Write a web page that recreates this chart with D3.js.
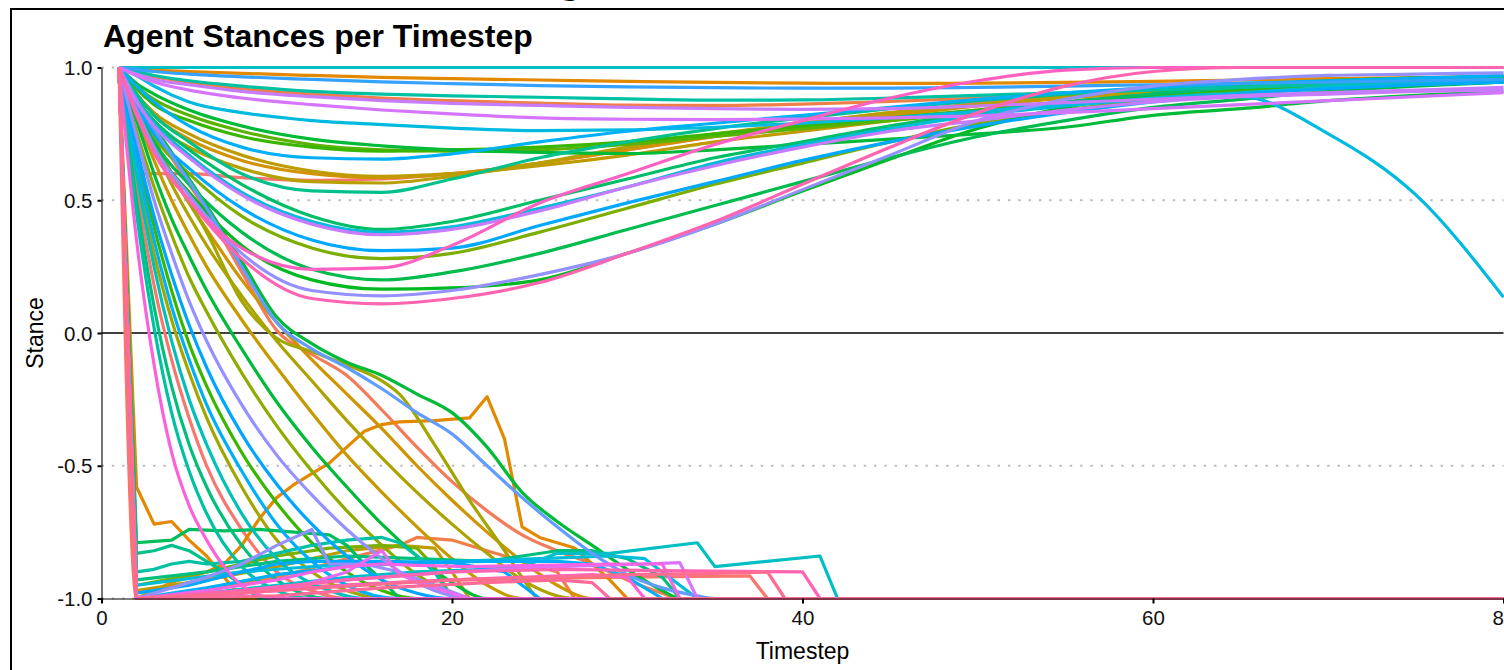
<!DOCTYPE html>
<html>
<head>
<meta charset="utf-8">
<script src="https://cdn.jsdelivr.net/npm/d3@7"></script>
<style>
html,body{margin:0;padding:0;background:#fff;}
svg{display:block;font-family:"Liberation Sans",Arial,Helvetica,sans-serif;}
</style>
</head>
<body>
<svg id="chart" width="1504" height="670"></svg>
<script>
// ---------------- DATA ----------------
const chartTitle = "Agent Stances per Timestep";
const xLabel = "Timestep";
const yLabel = "Stance";
const xTicks = [0, 20, 40, 60, 80];
const yTicks = [-1.0, -0.5, 0.0, 0.5, 1.0];
const gridValues = [-1.0, -0.5, 0.5, 1.0];

// agents that stay positive: values at these timesteps
const upperTimesteps = [1,2,3,5,8,12,16,20,25,30,35,40,45,50,55,60,65,70,75,80];
const upperColors = ["#00BFC4","#E38900","#35A2FF","#00C1A3","#EF7F49","#C77CFF","#D575FE","#00BAE0",
  "#00B0F6","#00BA38","#5BB300","#39B600","#C09B00","#D39200","#B79F00","#F8766D","#00C08B",
  "#00BCD8","#C77CFF","#00BE67","#00A9FF","#7CAE00","#FF61C3","#00BB4E","#00B81F","#9590FF","#FF64B0"];
const upperValues = [
  [1,1,1,1,1,1,1,1,1,1,1,1,1,1,1,1,1,1,1,1],
  [1,0.995,0.99,0.985,0.978,0.97,0.963,0.958,0.953,0.948,0.944,0.941,0.94,0.941,0.944,0.948,0.953,0.958,0.962,0.966],
  [1,0.993,0.985,0.975,0.965,0.955,0.946,0.939,0.932,0.927,0.924,0.922,0.922,0.925,0.93,0.935,0.94,0.945,0.95,0.955],
  [1,0.985,0.97,0.95,0.93,0.91,0.9,0.893,0.888,0.882,0.877,0.878,0.885,0.895,0.905,0.915,0.925,0.935,0.94,0.945],
  [1,0.98,0.965,0.945,0.92,0.9,0.885,0.875,0.866,0.858,0.857,0.862,0.872,0.885,0.9,0.912,0.925,0.935,0.945,0.952],
  [1,0.975,0.955,0.935,0.91,0.89,0.875,0.865,0.857,0.85,0.845,0.842,0.845,0.855,0.868,0.88,0.895,0.905,0.915,0.925],
  [1,0.97,0.945,0.915,0.885,0.86,0.84,0.825,0.81,0.805,0.804,0.806,0.81,0.818,0.83,0.845,0.86,0.875,0.89,0.905],
  [1,0.97,0.93,0.87,0.83,0.8,0.785,0.772,0.762,0.765,0.775,0.79,0.81,0.835,0.86,0.88,0.89,0.75,0.52,0.135],
  [1,0.93,0.87,0.78,0.7,0.66,0.655,0.675,0.72,0.76,0.79,0.82,0.85,0.88,0.905,0.925,0.94,0.95,0.96,0.97],
  [1,0.94,0.9,0.84,0.78,0.73,0.705,0.69,0.68,0.676,0.69,0.71,0.73,0.75,0.775,0.82,0.845,0.875,0.895,0.91],
  [1,0.93,0.88,0.82,0.76,0.71,0.69,0.685,0.69,0.71,0.74,0.77,0.8,0.83,0.86,0.885,0.905,0.92,0.935,0.945],
  [1,0.92,0.86,0.8,0.74,0.7,0.685,0.69,0.7,0.72,0.75,0.78,0.81,0.84,0.87,0.895,0.915,0.93,0.945,0.955],
  [1,0.9,0.83,0.75,0.67,0.61,0.59,0.6,0.63,0.67,0.72,0.76,0.8,0.84,0.87,0.9,0.92,0.935,0.945,0.955],
  [1,0.9,0.82,0.73,0.65,0.6,0.585,0.6,0.64,0.69,0.74,0.78,0.82,0.855,0.885,0.905,0.925,0.94,0.95,0.96],
  [1,0.88,0.79,0.7,0.62,0.57,0.565,0.59,0.64,0.7,0.75,0.79,0.83,0.86,0.89,0.91,0.93,0.945,0.955,0.965],
  [1,0.6,0.6,0.6,0.585,0.575,0.58,0.6,0.64,0.69,0.74,0.79,0.83,0.865,0.895,0.915,0.935,0.95,0.96,0.968],
  [1,0.9,0.82,0.72,0.6,0.535,0.53,0.58,0.66,0.72,0.77,0.81,0.845,0.875,0.9,0.92,0.935,0.948,0.958,0.968],
  [1,0.88,0.79,0.67,0.53,0.42,0.38,0.4,0.47,0.55,0.64,0.71,0.77,0.82,0.855,0.885,0.905,0.925,0.94,0.95],
  [1,0.87,0.78,0.66,0.52,0.41,0.37,0.39,0.46,0.55,0.63,0.7,0.76,0.8,0.84,0.87,0.89,0.9,0.91,0.915],
  [1,0.88,0.8,0.69,0.56,0.44,0.39,0.42,0.5,0.58,0.66,0.72,0.78,0.83,0.87,0.9,0.925,0.94,0.955,0.965],
  [1,0.86,0.75,0.62,0.47,0.35,0.31,0.32,0.405,0.49,0.57,0.65,0.72,0.78,0.83,0.87,0.9,0.92,0.935,0.945],
  [1,0.86,0.74,0.6,0.44,0.32,0.28,0.3,0.38,0.47,0.56,0.64,0.72,0.79,0.84,0.88,0.91,0.93,0.945,0.955],
  [1,0.82,0.68,0.5,0.32,0.24,0.245,0.33,0.49,0.6,0.71,0.8,0.885,0.95,0.99,1,1,1,1,1],
  [1,0.85,0.72,0.56,0.38,0.24,0.2,0.23,0.3,0.39,0.48,0.57,0.66,0.74,0.8,0.85,0.88,0.91,0.93,0.945],
  [1,0.84,0.7,0.53,0.33,0.2,0.165,0.17,0.2,0.3,0.41,0.535,0.655,0.77,0.85,0.9,0.93,0.95,0.96,0.965],
  [1,0.84,0.7,0.52,0.3,0.16,0.14,0.16,0.22,0.3,0.41,0.54,0.67,0.8,0.88,0.93,0.955,0.97,0.975,0.98],
  [1,0.83,0.68,0.5,0.28,0.13,0.11,0.13,0.19,0.3,0.42,0.56,0.7,0.83,0.93,0.985,1,1,1,1]
];

// agents that fall to -1 : [timestep, stance]
const fallingColors = ["#F8766D","#FA62DB","#00C1A3","#00BF7D","#F8766D","#00C0B8","#A3A500","#00B0F6",
  "#39B600","#00A5FF","#9590FF","#8EAB00","#00BA38","#C49A00","#ADA200","#D09400","#A3A500","#F37B59","#619CFF","#00BA38"];
const fallingPoints = [
  [[1,1],[2,-1],[80,-1]],
  [[1,1],[2,0.35],[3,-0.12],[4,-0.45],[5,-0.65],[6,-0.78],[7,-0.88],[8,-0.95],[10,-1],[80,-1]],
  [[1,1],[2,0.45],[3,0.02],[4,-0.3],[5,-0.52],[6,-0.68],[8,-0.88],[10,-0.97],[12,-1],[80,-1]],
  [[1,1],[2,0.5],[3,0.1],[4,-0.2],[5,-0.42],[6,-0.58],[8,-0.8],[10,-0.93],[13,-1],[80,-1]],
  [[1,1],[2,0.55],[3,0.18],[4,-0.1],[5,-0.32],[6,-0.5],[8,-0.74],[10,-0.9],[12,-0.97],[14,-1],[80,-1]],
  [[1,1],[2,0.6],[3,0.25],[4,-0.03],[5,-0.25],[6,-0.42],[8,-0.68],[10,-0.85],[13,-0.97],[15,-1],[80,-1]],
  [[1,1],[2,0.62],[3,0.3],[4,0.05],[5,-0.15],[6,-0.32],[8,-0.58],[10,-0.78],[12,-0.9],[15,-0.99],[16,-1],[80,-1]],
  [[1,1],[2,0.65],[3,0.35],[4,0.1],[5,-0.1],[6,-0.27],[8,-0.52],[10,-0.72],[12,-0.86],[14,-0.95],[17,-1],[80,-1]],
  [[1,1],[2,0.68],[3,0.4],[4,0.16],[5,-0.04],[6,-0.2],[8,-0.45],[10,-0.64],[12,-0.79],[14,-0.9],[16,-0.97],[18,-1],[80,-1]],
  [[1,1],[2,0.7],[3,0.44],[4,0.22],[5,0.03],[6,-0.13],[8,-0.38],[10,-0.57],[12,-0.72],[14,-0.84],[16,-0.93],[18,-0.98],[20,-1],[80,-1]],
  [[1,1],[2,0.74],[3,0.5],[4,0.3],[5,0.12],[6,-0.03],[8,-0.27],[10,-0.46],[12,-0.61],[14,-0.74],[16,-0.85],[18,-0.94],[20,-0.99],[21,-1],[80,-1]],
  [[1,1],[2,0.76],[3,0.55],[4,0.37],[5,0.21],[6,0.08],[8,-0.15],[10,-0.35],[12,-0.52],[14,-0.67],[16,-0.8],[18,-0.91],[20,-0.98],[21,-1],[80,-1]],
  [[1,1],[2,0.8],[3,0.6],[4,0.43],[5,0.29],[6,0.16],[8,-0.06],[10,-0.26],[12,-0.43],[14,-0.58],[16,-0.72],[18,-0.84],[20,-0.94],[22,-1],[80,-1]],
  [[1,1],[2,0.82],[3,0.65],[4,0.5],[5,0.37],[6,0.25],[8,0.05],[10,-0.13],[12,-0.3],[14,-0.46],[16,-0.6],[18,-0.73],[20,-0.85],[22,-0.95],[24,-1],[80,-1]],
  [[1,1],[2,0.85],[3,0.7],[4,0.56],[5,0.44],[6,0.33],[8,0.14],[10,-0.03],[12,-0.18],[14,-0.33],[16,-0.47],[18,-0.6],[20,-0.72],[22,-0.83],[24,-0.93],[26,-0.99],[27,-1],[80,-1]],
  [[1,1],[2,0.86],[3,0.73],[4,0.6],[5,0.49],[6,0.39],[8,0.2],[10,0.04],[12,-0.1],[14,-0.23],[16,-0.36],[18,-0.5],[20,-0.63],[22,-0.75],[24,-0.86],[26,-0.95],[28,-1],[80,-1]],
  [[1,1],[2,0.86],[3,0.73],[4,0.6],[6,0.38],[8,0.12],[10,-0.02],[12,-0.07],[14,-0.12],[16,-0.18],[17,-0.23],[19,-0.42],[21,-0.63],[23,-0.82],[24,-0.92],[25,-1],[80,-1]],
  [[1,1],[2,0.88],[3,0.77],[4,0.66],[6,0.46],[8,0.23],[10,0.01],[12,-0.08],[14,-0.16],[16,-0.29],[18,-0.43],[20,-0.56],[22,-0.67],[24,-0.76],[26,-0.82],[28,-0.87],[30,-0.93],[32,-0.98],[33,-1],[80,-1]],
  [[1,1],[2,0.88],[3,0.77],[4,0.67],[6,0.47],[8,0.25],[10,0.04],[12,-0.06],[14,-0.13],[16,-0.21],[18,-0.3],[20,-0.38],[22,-0.5],[24,-0.62],[26,-0.73],[28,-0.83],[30,-0.91],[32,-0.96],[34,-0.99],[35,-1],[80,-1]],
  [[1,1],[2,0.89],[3,0.78],[4,0.68],[6,0.48],[8,0.27],[10,0.06],[12,-0.04],[14,-0.11],[16,-0.16],[18,-0.23],[20,-0.3],[22,-0.43],[24,-0.6],[26,-0.71],[28,-0.8],[30,-0.89],[32,-0.97],[33,-1],[80,-1]]
];

// agents that flip almost at once and wander near -1 : [timestep, stance]
const bottomColors = ["#00BD5C","#00C08B","#00C1A3","#E38900","#E38900","#00BFC4","#00BCD8","#DB72FB",
  "#9590FF","#FF6C91","#F8766D","#FF64B0","#F564E3","#FD61D1","#FF6A98","#00B0F6","#00A9FF","#7CAE00","#00BF7D","#C09B00","#E76BF3","#EF7F49"];
const bottomPoints = [
  [[1,1],[2,-0.79],[3,-0.785],[4,-0.78],[5,-0.74],[7,-0.745],[9,-0.74],[11,-0.75],[13,-0.76],[14,-0.8],[15,-0.87],[16,-0.93],[17,-1],[80,-1]],
  [[1,1],[2,-0.83],[3,-0.82],[4,-0.8],[5,-0.82],[6,-0.86],[7,-0.9],[8,-0.95],[9,-1],[80,-1]],
  [[1,1],[2,-0.9],[3,-0.89],[4,-0.87],[5,-0.86],[6,-0.87],[8,-0.86],[10,-0.83],[12,-0.8],[14,-0.78],[16,-0.77],[17,-0.79],[18,-0.84],[19,-0.9],[20,-1],[80,-1]],
  [[1,1],[2,-0.58],[3,-0.72],[4,-0.71],[5,-0.78],[6,-0.84],[7,-0.92],[8,-1],[80,-1]],
  [[1,1],[2,-1],[3,-0.97],[4,-0.94],[5,-0.92],[6,-0.9],[7,-0.87],[8,-0.8],[9,-0.7],[10,-0.62],[11,-0.57],[12,-0.53],[13,-0.49],[14,-0.43],[15,-0.37],[16,-0.345],[17,-0.335],[19,-0.33],[21,-0.32],[22,-0.24],[23,-0.4],[24,-0.73],[25,-0.77],[26,-0.79],[27,-0.81],[28,-0.87],[29,-0.93],[30,-1],[80,-1]],
  [[1,1],[2,-1],[6,-0.98],[10,-0.95],[14,-0.92],[18,-0.9],[22,-0.89],[24,-0.88],[26,-0.83],[29,-0.83],[34,-0.79],[35,-0.88],[41,-0.84],[42,-1],[80,-1]],
  [[1,1],[2,-0.95],[8,-0.9],[14,-0.87],[20,-0.86],[25,-0.85],[29,-0.84],[31,-0.85],[32,-0.9],[33,-0.95],[34,-1],[80,-1]],
  [[1,1],[2,-1],[8,-0.97],[14,-0.93],[20,-0.9],[26,-0.88],[31,-0.87],[33,-0.865],[34,-1],[80,-1]],
  [[1,1],[2,-1],[4,-0.96],[6,-0.92],[8,-0.87],[10,-0.8],[12,-0.74],[13,-0.87],[15,-0.87],[17,-0.9],[19,-0.95],[21,-1],[80,-1]],
  [[1,1],[2,-1],[5,-0.99],[10,-0.97],[15,-0.95],[20,-0.93],[25,-0.92],[30,-0.91],[35,-0.905],[38,-0.9],[39,-1],[80,-1]],
  [[1,1],[2,-1],[6,-0.98],[12,-0.955],[18,-0.935],[24,-0.925],[30,-0.92],[37,-0.915],[38,-1],[80,-1]],
  [[1,1],[2,-1],[8,-0.97],[14,-0.93],[20,-0.9],[26,-0.89],[32,-0.895],[40,-0.9],[41,-1],[80,-1]],
  [[1,1],[2,-1],[6,-0.97],[10,-0.93],[12,-0.9],[14,-0.88],[16,-0.87],[18,-0.875],[21,-0.88],[25,-0.875],[29,-0.87],[32,-0.87],[33,-1],[80,-1]],
  [[1,1],[2,-1],[8,-0.98],[14,-0.95],[20,-0.93],[24,-0.92],[28,-0.91],[30,-0.92],[31,-1],[80,-1]],
  [[1,1],[2,-1],[10,-0.99],[16,-0.96],[22,-0.94],[26,-0.93],[28,-0.94],[29,-1],[80,-1]],
  [[1,1],[2,-1],[6,-0.96],[10,-0.91],[14,-0.88],[18,-0.865],[22,-0.86],[26,-0.86],[28,-0.87],[30,-0.92],[32,-1],[80,-1]],
  [[1,1],[2,-0.98],[5,-0.95],[8,-0.9],[10,-0.87],[12,-0.86],[16,-0.86],[20,-0.865],[23,-0.9],[25,-1],[80,-1]],
  [[1,1],[2,-0.95],[6,-0.9],[10,-0.84],[13,-0.81],[16,-0.8],[18,-0.81],[19,-0.88],[20,-1],[80,-1]],
  [[1,1],[2,-0.93],[6,-0.9],[10,-0.86],[14,-0.84],[18,-0.85],[22,-0.86],[24,-0.84],[26,-0.82],[28,-0.82],[30,-0.85],[32,-0.92],[33,-1],[80,-1]],
  [[1,1],[2,-0.97],[6,-0.93],[10,-0.88],[14,-0.82],[17,-0.8],[19,-0.81],[20,-0.9],[21,-1],[80,-1]],
  [[1,1],[2,-1],[6,-0.99],[10,-0.97],[12,-0.94],[14,-0.9],[16,-0.82],[17,-0.91],[19,-0.96],[21,-1],[80,-1]],
  [[1,1],[2,-1],[6,-0.97],[10,-0.92],[14,-0.85],[17,-0.8],[18,-0.77],[20,-0.78],[22,-0.82],[24,-0.86],[26,-0.9],[27,-1],[80,-1]]
];

// ---------------- DRAW ----------------
const svg = d3.select("#chart");
const W = 1504, H = 670;
svg.append("rect").attr("width", W).attr("height", H).attr("fill", "#fff");

// cropped outer frame of the screenshot
svg.append("rect").attr("x", 11).attr("y", 9).attr("width", 1600).attr("height", 700)
  .attr("fill", "none").attr("stroke", "#000").attr("stroke-width", 2);
// descender of cropped heading above
svg.append("text").attr("x", 570).attr("y", -7).attr("text-anchor", "middle")
  .attr("font-size", 40).attr("font-weight", "bold").attr("fill", "#000").text("g");

const x = d3.scaleLinear().domain([0, 80]).range([101.5, 1503.5]);
const y = d3.scaleLinear().domain([-1, 1]).range([598.5, 67.5]);

// grid (dotted)
svg.append("g").selectAll("line").data(gridValues).join("line")
  .attr("x1", x(0)).attr("x2", x(80)).attr("y1", d => y(d)).attr("y2", d => y(d))
  .attr("stroke", "#bdbdbd").attr("stroke-width", 2).attr("stroke-dasharray", "2.5,7.8");

// zero reference
svg.append("line").attr("x1", x(0)).attr("x2", x(80)).attr("y1", y(0)).attr("y2", y(0))
  .attr("stroke", "#000").attr("stroke-width", 1.3);

// series
const series = [];
upperValues.forEach((vals, i) => series.push({color: upperColors[i], pts: vals.map((v, j) => [upperTimesteps[j], v]), smooth: true}));
fallingPoints.forEach((pts, i) => series.push({color: fallingColors[i], pts, smooth: true}));
bottomPoints.forEach((pts, i) => series.push({color: bottomColors[i], pts, smooth: false}));
series.forEach(s => { const h = d3.hcl(s.color).h; s.order = isNaN(h) ? 0 : ((h - 10 + 360) % 360); });
series.sort((a, b) => a.order - b.order);

const lineSmooth = d3.line().x(d => x(d[0])).y(d => y(d[1])).curve(d3.curveMonotoneX);
const lineStraight = d3.line().x(d => x(d[0])).y(d => y(d[1]));

svg.append("g").selectAll("path").data(series).join("path")
  .attr("d", s => (s.smooth ? lineSmooth : lineStraight)(s.pts))
  .attr("fill", "none").attr("stroke", s => s.color).attr("stroke-width", 3.2)
  .attr("stroke-linejoin", "round").attr("stroke-linecap", "butt");

// axes
const fmt = d3.format(".1f");
const yAxis = svg.append("g").attr("transform", `translate(${x(0)},0)`)
  .call(d3.axisLeft(y).tickValues(yTicks).tickFormat(d => fmt(d).replace("−", "-")).tickSize(4).tickSizeOuter(0));
const xAxis = svg.append("g").attr("transform", `translate(0,${y(-1)})`)
  .call(d3.axisBottom(x).tickValues(xTicks).tickFormat(d3.format("d")).tickSize(5).tickSizeOuter(0));
[yAxis, xAxis].forEach(g => {
  g.select(".domain").attr("stroke", "#000").attr("stroke-width", 1.1);
  g.selectAll(".tick line").attr("stroke", "#000").attr("stroke-width", 2);
  g.selectAll(".tick text").attr("fill", "#111").attr("font-size", 20.5)
    .attr("font-family", '"Liberation Sans",Arial,sans-serif');
});
yAxis.selectAll(".tick text").attr("x", -9).attr("dy", "0.35em");
xAxis.selectAll(".tick text").attr("y", 12).attr("dy", "0.71em");

// titles
svg.append("text").attr("x", 103).attr("y", 47).attr("font-size", 32).attr("font-weight", "bold")
  .attr("fill", "#000").text(chartTitle);
svg.append("text").attr("x", x(40)).attr("y", 659).attr("text-anchor", "middle")
  .attr("font-size", 23).attr("fill", "#000").text(xLabel);
svg.append("text").attr("transform", `translate(43,${y(0)}) rotate(-90)`).attr("text-anchor", "middle")
  .attr("font-size", 23).attr("fill", "#000").text(yLabel);
</script>
</body>
</html>
